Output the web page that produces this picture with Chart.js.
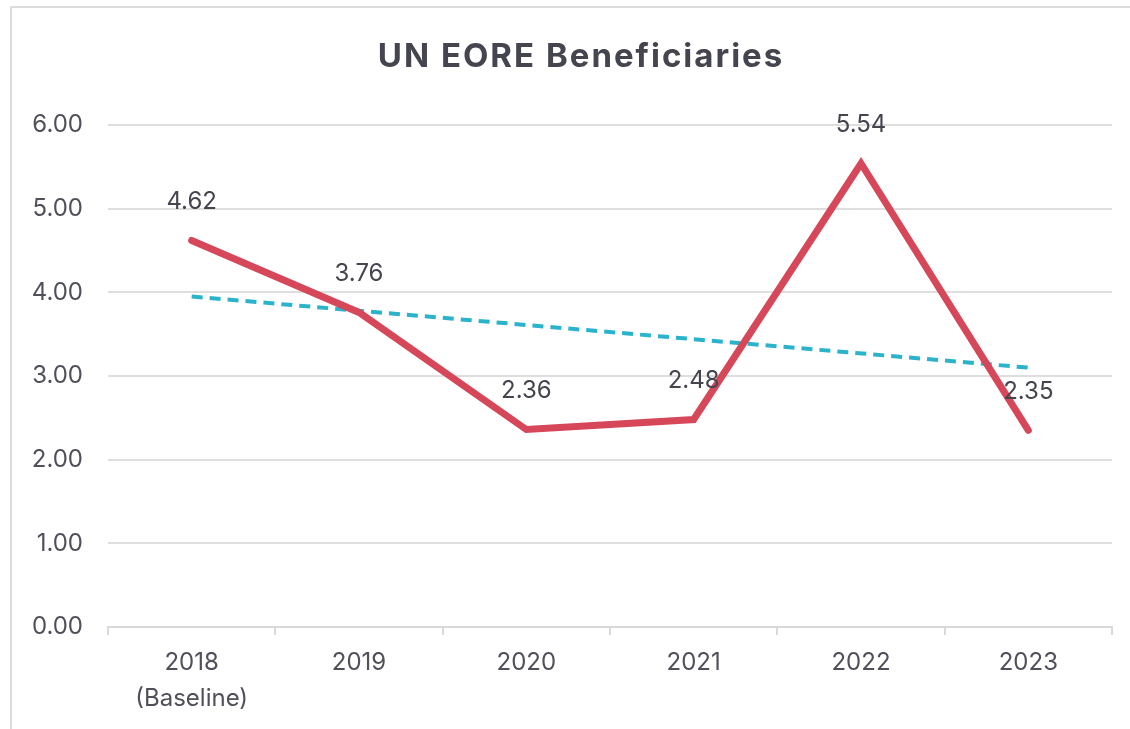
<!DOCTYPE html>
<html>
<head>
<meta charset="utf-8">
<script src="https://cdn.jsdelivr.net/npm/chart.js@4/dist/chart.umd.min.js"></script>
<style>
  html, body { margin: 0; padding: 0; background: #fff; overflow: hidden; }
  #wrap { position: relative; width: 1130px; height: 729px; }
  #frame { position: absolute; left: 10px; top: 6px; width: 1140px; height: 760px; border: 2px solid #dcdcdc; box-sizing: border-box; }
  canvas { position: absolute; left: 0; top: 0; }
</style>
</head>
<body>
<div id="wrap">
  <div id="frame"></div>
  <canvas id="chart" width="1130" height="729"></canvas>
</div>
<script>
const years = [["2018", "(Baseline)"], "2019", "2020", "2021", "2022", "2023"];
const beneficiaries = [4.62, 3.76, 2.36, 2.48, 5.54, 2.35];
// linear trend: start and end only
const trend = [3.95, null, null, null, null, 3.10];
const chartTitle = "UN EORE Beneficiaries";

const textColor = "#50505a";
const font = "Inter, 'Liberation Sans', sans-serif";

// title + point labels drawn by hand so they sit where the original does
const annotate = {
    id: "annotate",
    afterDatasetsDraw(chart) {
        const ctx = chart.ctx;
        const meta = chart.getDatasetMeta(0);
        ctx.save();
        ctx.font = "24px " + font;
        ctx.fillStyle = "#45454f";
        ctx.textAlign = "center";
        ctx.textBaseline = "middle";
        meta.data.forEach((pt, i) => {
            ctx.fillText(beneficiaries[i].toFixed(2), pt.x, pt.y - 39);
        });
        ctx.font = "bold 33px " + font;
        ctx.letterSpacing = "2px";
        ctx.fillText(chartTitle, 581, 57);
        ctx.restore();
    }
};

const ctx = document.getElementById("chart").getContext("2d");
new Chart(ctx, {
    type: "line",
    data: {
        labels: years,
        datasets: [
            {
                label: "Beneficiaries",
                data: beneficiaries,
                borderColor: "#d6475a",
                borderWidth: 7,
                borderCapStyle: "round",
                pointRadius: 0,
                tension: 0,
            },
            {
                label: "Trend",
                data: trend,
                borderColor: "#2bb3cb",
                borderWidth: 4,
                borderDash: [11, 7],
                pointRadius: 0,
                spanGaps: true,
            },
        ],
    },
    options: {
        responsive: false,
        animation: false,
        layout: { padding: { left: 14, right: 18, top: 125, bottom: 0 } },
        plugins: {
            legend: { display: false },
            tooltip: { enabled: false },
            title: { display: false },
        },
        scales: {
            x: {
                offset: true,
                grid: {
                    offset: true,
                    drawOnChartArea: false,
                    drawTicks: true,
                    tickLength: 8,
                    color: "#d9d9d9",
                    lineWidth: 2,
                },
                border: { display: true, color: "#d9d9d9", width: 2 },
                ticks: {
                    color: textColor,
                    padding: 10,
                    font: { family: font, size: 24, lineHeight: 1.5 },
                    maxRotation: 0,
                },
                afterFit: (s) => { s.height = 102; },
            },
            y: {
                min: 0,
                max: 6,
                grid: { color: "#dedede", lineWidth: 2, drawTicks: false },
                border: { display: false },
                ticks: {
                    stepSize: 1,
                    padding: 25,
                    color: textColor,
                    font: { family: font, size: 24 },
                    callback: (v) => Number(v).toFixed(2),
                },
                afterFit: (s) => { s.width = 94; },
            },
        },
    },
    plugins: [annotate],
});
</script>
</body>
</html>
